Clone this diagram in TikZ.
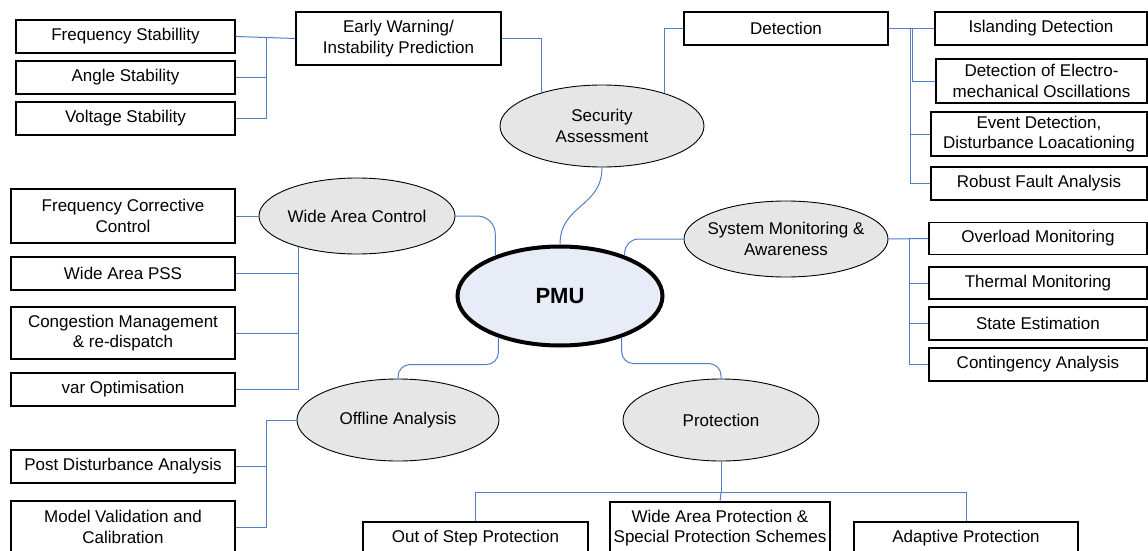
\documentclass[tikz,border=0pt]{standalone}
\usepackage{fontspec}
\setmainfont{Liberation Sans}
\usetikzlibrary{calc,shapes.geometric}
\definecolor{conncol}{HTML}{4F7FC6}
\definecolor{ellfill}{HTML}{E6E6E6}
\definecolor{pmufill}{HTML}{E8ECF7}
\begin{document}
\begin{tikzpicture}[x=1pt,y=-1pt,
  every node/.style={font=\fontsize{17}{20.5}\selectfont, align=center},
  box/.style={draw=black, line width=1.1pt, fill=white, rectangle, inner sep=0pt},
  ell/.style={draw=black, line width=0.9pt, fill=ellfill, ellipse, inner xsep=-30pt, inner ysep=-15pt},
  conn/.style={draw=conncol, line width=1pt}]
\useasboundingbox (0,0) rectangle (1148,551);
\clip (0,0) rectangle (1148,551);

% ---- boxes ----
\node[box, minimum width=219pt, minimum height=33pt] (fs) at (125.5,36.5) {Frequency Stabillity};
\node[box, minimum width=219pt, minimum height=33pt] (as) at (125.5,77.5) {Angle Stability};
\node[box, minimum width=219pt, minimum height=33pt] (vs) at (125.5,118.5) {Voltage Stability};
\node[box, minimum width=205pt, minimum height=53pt] (ew) at (398.5,38.5) {Early Warning/\\Instability Prediction};
\node[box, minimum width=204pt, minimum height=33pt] (det) at (786,28.5) {Detection};
\node[box, minimum width=212pt, minimum height=33pt] (isl) at (1041,28.5) {Islanding Detection};
\node[box, minimum width=211pt, minimum height=44pt] (deo) at (1041.5,81) {Detection of Electro-\\mechanical Oscillations};
\node[box, minimum width=216pt, minimum height=44pt] (evd) at (1039,134) {Event Detection,\\Disturbance Loacationing};
\node[box, minimum width=216pt, minimum height=33pt] (rfa) at (1039,183.5) {Robust Fault Analysis};
\node[box, minimum width=218pt, minimum height=32pt] (ovl) at (1038,238.5) {Overload Monitoring};
\node[box, minimum width=218pt, minimum height=32pt] (thm) at (1038,283) {Thermal Monitoring};
\node[box, minimum width=218pt, minimum height=33pt] (ste) at (1038,323.5) {State Estimation};
\node[box, minimum width=218pt, minimum height=33pt] (con) at (1038,364.5) {Contingency Analysis};
\node[box, minimum width=224pt, minimum height=54pt] (fcc) at (123,216) {Frequency Corrective\\Control};
\node[box, minimum width=224pt, minimum height=33pt] (pss) at (123,273.5) {Wide Area PSS};
\node[box, minimum width=224pt, minimum height=52pt] (cgm) at (123,333) {Congestion Management\\\& re-dispatch};
\node[box, minimum width=224pt, minimum height=33pt] (var) at (123,389.5) {var Optimisation};
\node[box, minimum width=224pt, minimum height=33pt] (pda) at (123,466.5) {Post Disturbance Analysis};
\node[box, minimum width=224pt, minimum height=52pt] (mvc) at (123,527) {Model Validation and\\Calibration};
\node[box, minimum width=225pt, minimum height=32pt] (oos) at (475.5,538) {Out of Step Protection};
\node[box, minimum width=220pt, minimum height=52pt] (wap) at (720,528) {Wide Area Protection \&\\Special Protection Schemes};
\node[box, minimum width=224pt, minimum height=32pt] (adp) at (966,538) {Adaptive Protection};

% ---- ellipses ----
\node[ell, minimum width=204pt, minimum height=82pt] (sec) at (602,126) {Security\\Assessment};
\node[ell, minimum width=196pt, minimum height=76pt] (wac) at (357,216) {Wide Area Control};
\node[ell, minimum width=204pt, minimum height=76pt] (sma) at (786,239) {System Monitoring \&\\Awareness};
\node[ell, minimum width=202pt, minimum height=82pt] (off) at (398,420) {Offline Analysis};
\node[ell, minimum width=196pt, minimum height=82pt] (pro) at (721,420) {Protection};
\node[draw=black, line width=4pt, fill=pmufill, ellipse, inner xsep=-30pt, inner ysep=-15pt,
      minimum width=205pt, minimum height=99pt, font=\fontsize{22}{26}\selectfont\bfseries] (pmu) at (560,296) {PMU};

% ---- connectors: early warning group ----
\coordinate (b1) at (266,38.5);
\draw[conn] (fs.east) -- (ew.west);
\draw[conn] (b1) |- (vs.east);
\draw[conn] (b1 |- as.east) -- (as.east);
\draw[conn] (ew.east) -| (sec.151);

% ---- detection group ----
\draw[conn] (det.west) -| (sec.28);
\draw[conn] (det.east) -- (isl.west);
\coordinate (d1) at (912,28.5);
\coordinate (d2) at (910,28.5);
\draw[conn] (d1) |- (deo.west);
\draw[conn] (d2) |- (rfa.west);
\draw[conn] (d2 |- evd.west) -- (evd.west);

% ---- to PMU ----
\draw[conn] (sec.south) .. controls +(0,40) and +(0,-40) .. (pmu.north);
\draw[conn, rounded corners=18pt] (wac.east) -| (pmu.148);
\draw[conn, rounded corners=14pt] (sma.west) -| (pmu.32);
\draw[conn, rounded corners=12pt] (pmu.214) |- ($(off.north)+(0,-14)$) -- (off.north);
\draw[conn, rounded corners=12pt] (pmu.326) |- ($(pro.north)+(0,-15)$) -- (pro.north);

% ---- wide area control group ----
\draw[conn] (fcc.east) -- (wac.west);
\draw[conn] (wac.208) |- (var.east);
\draw[conn] (pss.east) -- (pss.east -| wac.208);
\draw[conn] (cgm.east) -- (cgm.east -| wac.208);

% ---- system monitoring group ----
\coordinate (s1) at (909,239);
\draw[conn] (sma.east) -- (ovl.west);
\draw[conn] (s1) |- (con.west);
\draw[conn] (s1 |- thm.west) -- (thm.west);
\draw[conn] (s1 |- ste.west) -- (ste.west);

% ---- offline group ----
\coordinate (o1) at (266,420);
\draw[conn] (off.west) -- (o1) |- (mvc.east);
\draw[conn] (o1 |- pda.east) -- (pda.east);

% ---- protection group ----
\draw[conn] (pro.south) -- ++(0,31) coordinate (p1);
\draw[conn] (oos.north) -- (oos.north |- p1) -- (adp.north |- p1) -- (adp.north);
\draw[conn] (p1) -- (wap.north);
\end{tikzpicture}
\end{document}
